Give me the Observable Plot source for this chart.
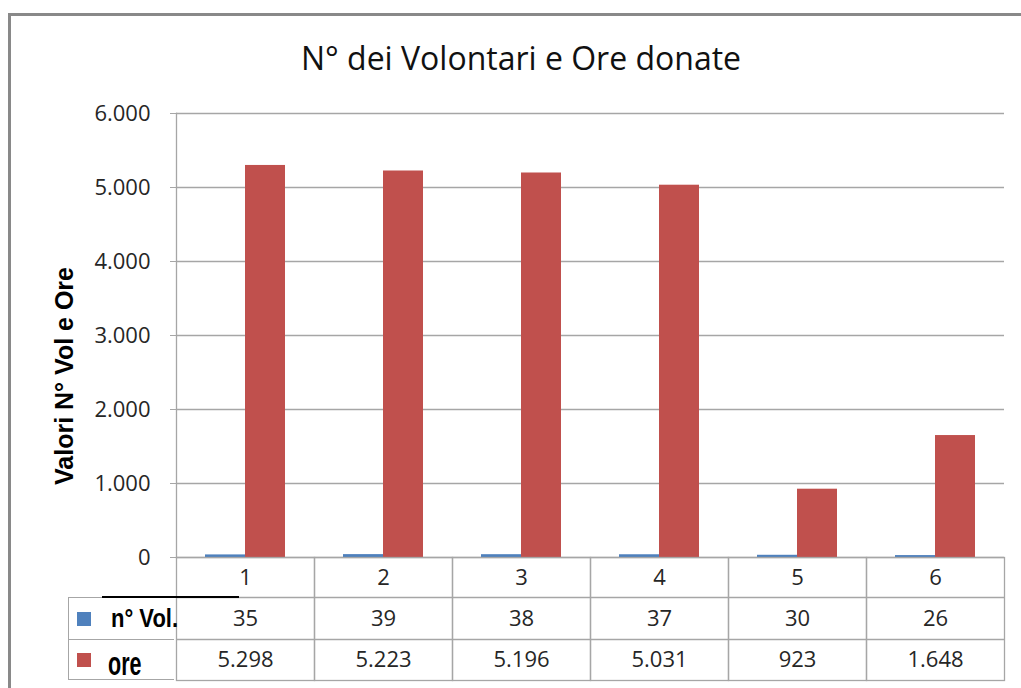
<!DOCTYPE html>
<html><head><meta charset="utf-8">
<script src="https://cdn.jsdelivr.net/npm/d3@7"></script>
<script src="https://cdn.jsdelivr.net/npm/@observablehq/plot@0.6"></script>
<style>
body{margin:0;background:#fff;}
#wrap{position:relative;width:1021px;height:688px;overflow:hidden;font-family:"Open Sans",sans-serif;background:#fff;}
#border{position:absolute;left:8px;top:13px;width:1100px;height:800px;border-left:3px solid #898989;border-top:3px solid #898989;}
#title{position:absolute;left:0;width:1042px;top:42px;text-align:center;font-size:32px;line-height:32px;color:#111;white-space:nowrap;}
#chart{position:absolute;left:0;top:0;}
#ylabel{position:absolute;left:64px;top:376px;transform:translate(-50%,-50%) rotate(-90deg);font-family:"Liberation Sans",Arial,sans-serif;font-weight:bold;font-size:25px;color:#000;white-space:nowrap;}
#legbox{position:absolute;left:68px;top:597px;width:106px;height:83px;border:1px solid #a6a6a6;border-right:none;box-sizing:border-box;}
#legmid{position:absolute;left:68px;top:639px;width:106px;height:1px;background:#a6a6a6;}
.sw{position:absolute;left:77px;width:14px;height:14px;}
.lab{position:absolute;font-family:"Liberation Sans",Arial,sans-serif;font-weight:bold;font-size:25px;line-height:25px;color:#000;white-space:nowrap;transform-origin:0 100%;}
#blackline{position:absolute;left:102px;top:596px;width:137px;height:2px;background:#000;}
</style></head><body>
<div id="wrap">
  <div id="border"></div>
  <div id="chart"></div>
  <div id="title"></div>
  <div id="ylabel"></div>
  <div id="legbox"></div>
  <div id="legmid"></div>
  <div id="blackline"></div>
</div>
<script>
const categories = [1, 2, 3, 4, 5, 6];
const seriesNames = ["n° Vol.", "ore"];
const volontari = [35, 39, 38, 37, 30, 26];
const oreDonate = [5298, 5223, 5196, 5031, 923, 1648];
const yTicks = [0, 1000, 2000, 3000, 4000, 5000, 6000];
const seriesColors = ["#4F81BD", "#C0504D"];
const chartTitle = "N° dei Volontari e Ore donate";
const yLabel = "Valori N° Vol e Ore";

const itLocale = d3.formatLocale({decimal: ",", thousands: ".", grouping: [3], currency: ["€", ""]});
const fmt = itLocale.format(",d");

const rows = categories.flatMap((c, i) => [
  {cat: c, series: seriesNames[0], value: volontari[i]},
  {cat: c, series: seriesNames[1], value: oreDonate[i]}
]);

const W = 1021, H = 688, mL = 174, mR = 15, mT = 113, mB = 131;
const plotH = H - mT - mB;
const rowLines = [40, 82];
const rowCenters = [20, 61, 102];
const tableH = 123;
const gridColor = "#a6a6a6";
const textColor = "#262626";

const chart = Plot.plot({
  width: W, height: H,
  marginLeft: mL, marginRight: mR, marginTop: mT, marginBottom: mB,
  style: {fontFamily: "'Open Sans', sans-serif", fontSize: "22px", color: textColor, background: "transparent", overflow: "visible"},
  fx: {domain: categories, padding: 0, axis: null, label: null},
  x: {domain: seriesNames, paddingInner: 0, paddingOuter: 0.725, axis: null},
  y: {domain: [0, 6000]},
  color: {domain: seriesNames, range: seriesColors},
  marks: [
    Plot.ruleY(yTicks, {stroke: gridColor, strokeWidth: 1.3}),
    Plot.axisY({ticks: yTicks, tickFormat: fmt, tickSize: 6, tickPadding: 20, stroke: gridColor, fill: textColor, label: null}),
    Plot.frame({anchor: "left", facetAnchor: "left", stroke: gridColor, strokeWidth: 1.3}),
    Plot.barY(rows, {fx: "cat", x: "series", y: "value", fill: "series"}),
    Plot.frame({insetTop: plotH, insetBottom: -tableH, stroke: gridColor, strokeWidth: 1.3}),
    Plot.ruleY([0], {dy: rowLines[0], stroke: gridColor, strokeWidth: 1.3}),
    Plot.ruleY([0], {dy: rowLines[1], stroke: gridColor, strokeWidth: 1.3}),
    Plot.text(rows, {filter: d => d.series === seriesNames[0], fx: "cat", frameAnchor: "bottom", lineAnchor: "middle", dy: rowCenters[0], text: d => String(d.cat)}),
    Plot.text(rows, {filter: d => d.series === seriesNames[0], fx: "cat", frameAnchor: "bottom", lineAnchor: "middle", dy: rowCenters[1], text: d => fmt(d.value)}),
    Plot.text(rows, {filter: d => d.series === seriesNames[1], fx: "cat", frameAnchor: "bottom", lineAnchor: "middle", dy: rowCenters[2], text: d => fmt(d.value)})
  ]
});
document.getElementById("chart").appendChild(chart);
document.getElementById("title").textContent = chartTitle;
document.getElementById("ylabel").textContent = yLabel;

const wrap = document.getElementById("wrap");
const legendSpec = [
  {top: 612, labLeft: 111, labTop: 606, scale: "scale(0.88,1.05)"},
  {top: 653, labLeft: 108, labTop: 655, scale: "scale(0.86,1.3)"}
];
seriesNames.forEach((name, i) => {
  const sw = document.createElement("div");
  sw.className = "sw";
  sw.style.top = legendSpec[i].top + "px";
  sw.style.background = seriesColors[i];
  wrap.appendChild(sw);
  const lab = document.createElement("div");
  lab.className = "lab";
  lab.style.left = legendSpec[i].labLeft + "px";
  lab.style.top = legendSpec[i].labTop + "px";
  lab.style.transform = legendSpec[i].scale;
  lab.textContent = name;
  wrap.appendChild(lab);
});
</script>
</body></html>
